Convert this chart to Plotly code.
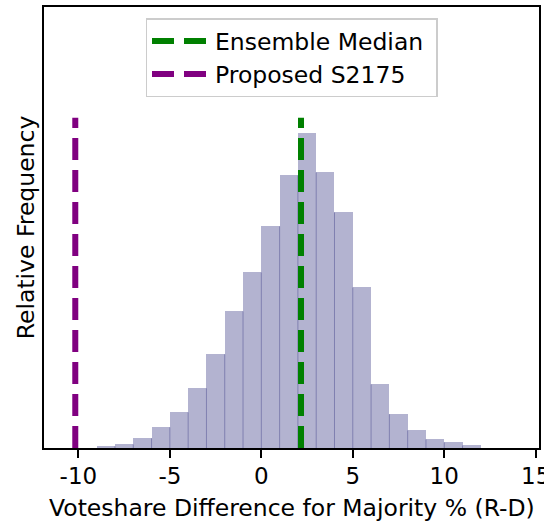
import plotly.graph_objects as go

# histogram bins (width 1) and relative frequency
bin_left = [-9, -8, -7, -6, -5, -4, -3, -2, -1, 0, 1, 2, 3, 4, 5, 6, 7, 8, 9, 10, 11]
rel_freq = [0.0008, 0.0017, 0.0045, 0.0096, 0.0166, 0.0278, 0.0436, 0.0636, 0.0817,
            0.1031, 0.1268, 0.1464, 0.1282, 0.1096, 0.0747, 0.0296, 0.0157, 0.0082,
            0.0040, 0.0026, 0.0012]

ensemble_median = 2.17
proposed_s2175 = -10.17

x_ticks = [-10, -5, 0, 5, 10, 15]
x_tick_text = ["-10", "-5", "0", "5", "10", "15"]

FONT = "DejaVu Sans"
BAR_FILL = "rgb(179,179,208)"
BAR_EDGE = "rgb(128,128,176)"

fig = go.Figure()

centers = [b + 0.5 for b in bin_left]
fig.add_trace(
    go.Bar(
        x=centers,
        y=rel_freq,
        width=1,
        marker=dict(color=BAR_FILL, line=dict(width=0)),
        showlegend=False,
        hoverinfo="skip",
    )
)

# darker seams where neighbouring translucent bars overlap
seam_x, seam_y = [], []
for i in range(1, len(bin_left)):
    edge = bin_left[i]
    seam_x += [edge, edge, None]
    seam_y += [0, min(rel_freq[i - 1], rel_freq[i]), None]
fig.add_trace(
    go.Scatter(
        x=seam_x, y=seam_y, mode="lines",
        line=dict(color=BAR_EDGE, width=1),
        showlegend=False, hoverinfo="skip",
    )
)

line_top = max(rel_freq) * 1.05
big = "<span style='font-size:23.5px'>%s</span>&nbsp;"
fig.add_trace(
    go.Scatter(
        x=[ensemble_median, ensemble_median],
        y=[0, line_top],
        mode="lines",
        name=big % "Ensemble Median",
        line=dict(color="green", width=6, dash="22px,10px"),
    )
)
fig.add_trace(
    go.Scatter(
        x=[proposed_s2175, proposed_s2175],
        y=[0, line_top],
        mode="lines",
        name=big % "Proposed S2175",
        line=dict(color="purple", width=6, dash="22px,10px"),
    )
)

fig.update_xaxes(
    range=[-11.88, 15.18],
    tickmode="array",
    tickvals=x_ticks,
    ticktext=x_tick_text,
    ticks="outside",
    ticklen=8,
    tickwidth=2,
    tickcolor="black",
    ticklabelstandoff=-2,
    ticklabeloverflow="allow",
    tickfont=dict(family=FONT, size=23, color="black"),
    showline=True,
    linecolor="black",
    linewidth=2,
    mirror=True,
    showgrid=False,
    zeroline=False,
    automargin=False,
)

fig.update_yaxes(
    range=[0, 0.2052],
    showticklabels=False,
    ticks="",
    showline=True,
    linecolor="black",
    linewidth=2,
    mirror=True,
    showgrid=False,
    zeroline=False,
    automargin=False,
    title=dict(
        text="Relative Frequency",
        font=dict(family=FONT, size=23.5, color="black"),
        standoff=1,
    ),
)

# x-axis title as a paper annotation so it sits just under the tick labels
fig.add_annotation(
    text="Voteshare Difference for Majority % (R-D)",
    xref="paper", yref="paper",
    x=0.5, y=-0.137,
    xanchor="center", yanchor="middle",
    showarrow=False,
    font=dict(family=FONT, size=23.5, color="black"),
)

fig.update_layout(
    width=544,
    height=525,
    margin=dict(l=44, r=5, t=7, b=77),
    plot_bgcolor="white",
    paper_bgcolor="white",
    bargap=0,
    legend=dict(
        x=0.5,
        xanchor="center",
        y=0.975,
        yanchor="top",
        bgcolor="rgba(255,255,255,0.8)",
        bordercolor="#cccccc",
        borderwidth=1.5,
        itemwidth=58,
        font=dict(family=FONT, size=23, color="black"),
    ),
)

# drop the default 8px page margin so the figure fills the window
fig.write_html(
    "out.html",
    config={"displayModeBar": False},
    post_script="document.body.style.margin='0';",
)
